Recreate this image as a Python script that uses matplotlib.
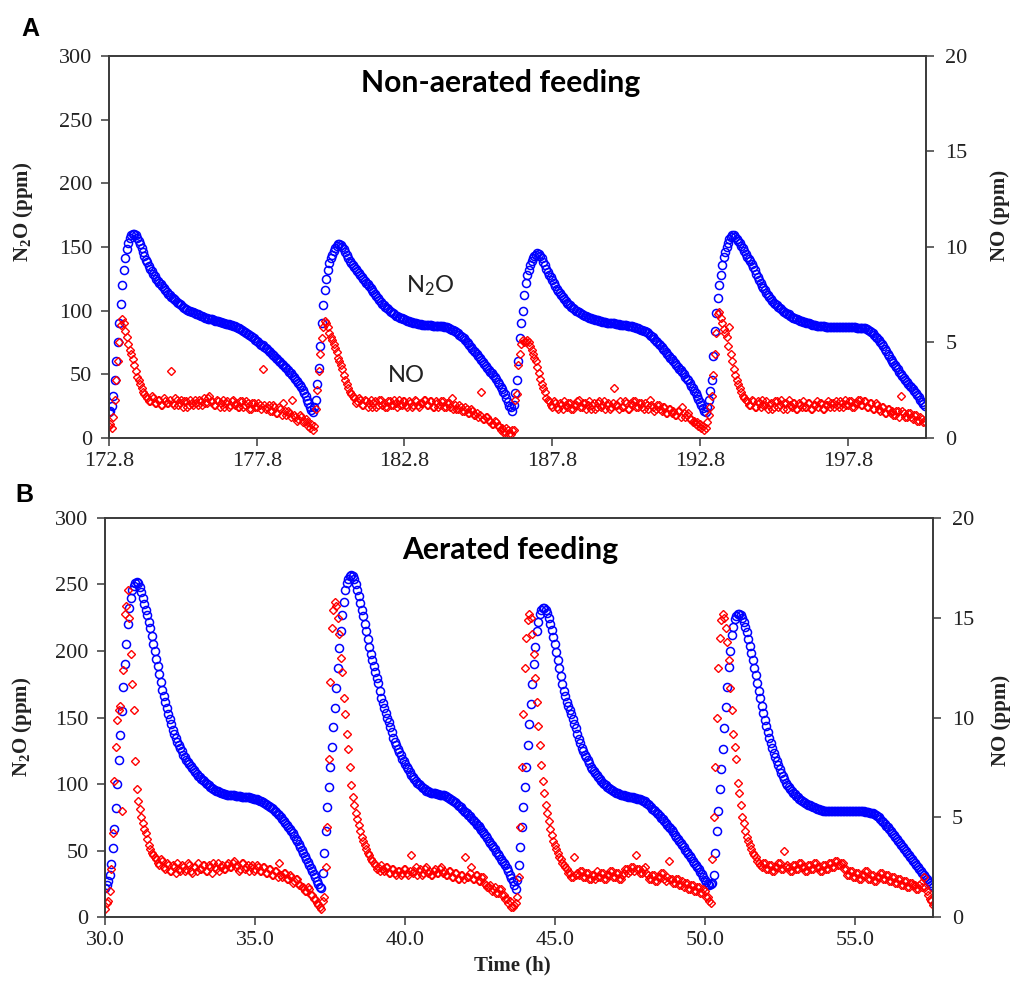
import matplotlib
matplotlib.use('Agg')
import matplotlib.pyplot as plt
import numpy as np

plt.rcParams['mathtext.fontset'] = 'custom'
plt.rcParams['mathtext.rm'] = 'Liberation Serif'
plt.rcParams['mathtext.bf'] = 'Liberation Serif:bold'
plt.rcParams['mathtext.sf'] = 'Lato'

# Sampling step of both panels (h); one row below = one hour (20 samples)
step = 0.05

# Panel A: non-aerated feeding, starts at 172.8 h
t0_a = 172.8
n2o_a = [
    20, 21, 25, 33, 45, 60, 75, 90, 105, 120, 132, 141, 148, 153, 157, 159, 160, 160, 159, 157,
    155, 152, 149, 146, 143, 140, 138, 135, 133, 131, 129, 127, 125, 123.5, 122, 120.5, 119, 117.5, 116, 114.5,
    113, 112, 111, 110, 109, 108, 107, 106, 105, 104, 103, 102, 101, 100.5, 100, 99.5, 99, 98.5, 98, 97.5,
    97, 96.5, 96, 95.5, 95, 94.5, 94, 93.7, 93.5, 93.2, 93, 92.5, 92, 91.7, 91.5, 91.2, 91, 90.5, 90, 89.7,
    89.5, 89.2, 89, 88.5, 88, 87.5, 87, 86.5, 86, 85.2, 84.5, 83.7, 83, 82.2, 81.5, 80.7, 80, 79, 78, 77,
    76, 75, 74, 73.2, 72.5, 71.5, 70.5, 69.5, 68.5, 67.2, 66, 65, 64, 63, 62, 60.7, 59.5, 58.2, 57, 55.7,
    54.5, 53.2, 52, 50.5, 49, 47.5, 46, 44.5, 43, 41.2, 39.5, 37.3, 35, 32.5, 30, 27, 24, 21.5, 20, 24,
    30, 42, 55, 72, 90, 104, 116, 125, 132, 137, 141, 144, 147, 149, 151, 152, 152, 151.5, 150, 148,
    146, 143.5, 141, 139, 137, 135.5, 134, 132.5, 131, 129.5, 128, 126.5, 125, 123.5, 122, 120.5, 119, 117.5, 116, 114.5,
    113, 111.5, 110, 108.5, 107, 105.5, 104, 103, 102, 101, 100, 99, 98, 97, 96, 95.5, 95, 94.5, 94, 93.5,
    93, 92.5, 92, 91.5, 91, 90.7, 90.5, 90.2, 90, 89.7, 89.5, 89.2, 89, 89, 89, 88.7, 88.5, 88.5, 88.5, 88.2,
    88, 88, 88, 88, 88, 87.7, 87.5, 87.2, 87, 86.7, 86.5, 85.7, 85, 84.5, 84, 83, 82, 81, 80, 79,
    78, 76.7, 75.5, 74.2, 73, 71.5, 70, 68.5, 67, 65.5, 64, 62.5, 61, 59.5, 58, 56.5, 55, 53.5, 52, 50.5,
    49, 47.5, 46, 44, 42, 40, 38, 36, 34, 31, 28, 25, 24, 21, 26, 35, 45, 60, 78, 90,
    100, 112, 122, 128, 132, 136, 139, 141, 143, 144, 145, 144.5, 143, 141, 138, 135.5, 133, 130.5, 128, 126,
    124, 121.5, 119, 117, 115, 113.5, 112, 110.5, 109, 107.5, 106, 105, 104, 103, 102, 101, 100, 99.5, 99, 98,
    97, 96.5, 96, 95.5, 95, 94.5, 94, 93.5, 93, 92.7, 92.5, 92.2, 92, 91.5, 91, 91, 91, 90.5, 90, 90,
    90, 90, 90, 89.7, 89.5, 89.2, 89, 89, 89, 88.7, 88.5, 88.2, 88, 87.7, 87.5, 87.2, 87, 86.5, 86, 85.5,
    85, 84.5, 84, 83.5, 83, 82, 81, 80, 79, 77.5, 76, 75, 74, 72.5, 71, 70, 69, 67.5, 66, 64.5,
    63, 61.5, 60, 58.5, 57, 55.5, 54, 53, 52, 50, 48, 46.5, 45, 43, 41, 39, 37, 35, 33, 30.5,
    28, 25.5, 23, 21, 20, 24, 30, 37, 45, 64, 84, 98, 110, 120, 128, 136, 142, 146, 150, 153,
    156, 158, 159, 159, 158, 156.5, 155, 153, 151, 149, 147, 144.5, 142, 140.5, 139, 136.5, 134, 131.5, 129, 126.5,
    124, 121.5, 119, 117.5, 116, 114, 112, 110.5, 109, 107.5, 106, 105, 104, 103, 102, 101, 100, 99, 98, 97.5,
    97, 96, 95, 94.5, 94, 93.5, 93, 92.5, 92, 91.5, 91, 90.7, 90.5, 90.2, 90, 89.5, 89, 88.7, 88.5, 88.2,
    88, 88, 88, 87.7, 87.5, 87.2, 87, 87, 87, 87, 87, 87, 87, 87, 87, 87, 87, 87, 87, 87,
    87, 87, 87, 87, 87, 86.7, 86.5, 86.5, 86.5, 86.2, 86, 86, 86, 85.5, 85, 84, 83, 82, 81, 79.5,
    78, 76.5, 75, 73.5, 72, 70, 68, 66, 64, 62, 60, 58.5, 57, 55.5, 54, 52, 50, 48.5, 47, 45.5,
    44, 42.5, 41, 39.5, 38, 36.5, 35, 33.5, 32, 30, 28, 26.5, 25,
]
no_a = [
    0.6, 0.7, 0.5, 1.1, 2.0, 3.0, 4.0, 5.0, 5.9, 6.2, 6.0, 5.6, 5.3, 4.9, 4.6, 4.4, 4.1, 3.8, 3.5, 3.2,
    3.0, 2.8, 2.6, 2.4, 2.3, 2.2, 2.1, 1.9, 1.9, 2.2, 2.1, 1.8, 1.8, 2.0, 2.0, 1.7, 1.7, 2.1, 1.9, 1.8,
    1.8, 2.0, 3.5, 1.8, 1.7, 2.1, 2.0, 1.7, 1.8, 2.0, 1.6, 1.9, 1.9, 1.6, 1.7, 2.0, 1.8, 1.7, 2.0, 1.8,
    1.7, 2.0, 1.9, 1.7, 2.1, 1.8, 1.8, 2.1, 2.2, 1.9, 1.9, 1.7, 1.7, 2.0, 1.9, 1.6, 1.8, 2.0, 1.6, 1.8,
    1.9, 1.6, 1.7, 1.9, 2.0, 1.7, 1.8, 1.6, 1.6, 1.9, 1.9, 1.6, 1.7, 1.9, 1.8, 1.5, 1.5, 1.8, 1.8, 1.6,
    1.6, 1.8, 1.7, 1.5, 3.6, 1.7, 1.5, 1.6, 1.7, 1.4, 1.4, 1.7, 1.6, 1.3, 1.3, 1.6, 1.5, 1.2, 1.8, 1.4,
    1.2, 1.4, 1.3, 1.1, 2.0, 1.2, 1.1, 0.9, 1.0, 1.2, 1.1, 0.8, 0.9, 1.0, 0.8, 0.6, 0.5, 0.7, 0.4, 0.6,
    1.5, 2.5, 3.5, 4.4, 5.2, 5.8, 6.1, 6.0, 5.8, 5.5, 5.3, 5.1, 4.9, 4.7, 4.5, 4.2, 4.0, 3.8, 3.6, 3.3,
    3.0, 2.8, 2.6, 2.4, 2.3, 2.2, 2.1, 1.8, 1.9, 2.1, 2.0, 1.7, 1.7, 2.0, 1.9, 1.6, 1.8, 2.0, 1.6, 1.8,
    1.9, 1.6, 1.7, 2.0, 2.0, 1.7, 1.8, 1.6, 1.6, 1.9, 1.9, 1.7, 1.7, 2.0, 1.8, 1.6, 2.0, 1.7, 1.7, 1.9,
    1.9, 1.7, 1.6, 1.9, 1.8, 1.6, 1.7, 2.0, 1.9, 1.7, 1.6, 1.8, 1.8, 2.0, 2.0, 1.7, 1.7, 1.9, 1.9, 1.6,
    1.6, 1.9, 1.8, 1.6, 1.7, 1.9, 1.9, 1.6, 1.6, 1.8, 1.8, 1.6, 2.1, 1.5, 1.7, 1.5, 1.5, 1.7, 1.6, 1.4,
    1.4, 1.6, 1.5, 1.3, 1.3, 1.5, 1.4, 1.2, 1.2, 1.3, 1.1, 1.2, 2.4, 1.0, 1.0, 1.1, 1.1, 0.9, 0.9, 0.7,
    0.7, 0.9, 0.8, 0.6, 0.6, 0.4, 0.5, 0.3, 0.3, 0.5, 0.4, 0.2, 0.2, 0.4, 0.4, 2.0, 2.3, 3.8, 4.4, 4.9,
    5.1, 5.0, 5.0, 5.1, 5.0, 4.8, 4.6, 4.4, 4.2, 4.0, 3.7, 3.4, 3.1, 2.8, 2.6, 2.4, 2.1, 2.0, 1.9, 1.7,
    1.6, 1.9, 1.8, 1.6, 1.5, 1.8, 1.7, 1.5, 1.9, 1.7, 1.6, 1.8, 1.8, 1.5, 1.5, 1.7, 1.7, 1.9, 2.0, 1.6,
    1.6, 1.8, 1.8, 1.5, 1.7, 1.9, 1.5, 1.7, 1.8, 1.5, 1.6, 1.8, 1.9, 1.6, 1.7, 1.9, 1.5, 1.7, 1.8, 1.5,
    1.6, 1.8, 2.6, 1.7, 1.7, 1.5, 1.9, 1.6, 1.6, 1.9, 1.8, 1.5, 1.5, 1.8, 1.7, 1.9, 1.9, 1.6, 1.6, 1.8,
    1.8, 1.6, 1.5, 1.8, 1.7, 1.5, 2.0, 1.7, 1.6, 1.4, 1.5, 1.7, 1.7, 1.5, 1.4, 1.6, 1.6, 1.3, 1.3, 1.5,
    1.5, 1.3, 1.4, 1.2, 1.2, 1.4, 1.4, 1.1, 1.6, 1.3, 1.1, 1.2, 1.3, 1.0, 1.0, 0.8, 0.9, 0.7, 0.8, 0.6,
    0.7, 0.5, 0.6, 0.4, 0.5, 0.8, 1.2, 1.6, 2.2, 3.3, 4.4, 5.5, 6.5, 6.6, 6.3, 6.0, 5.7, 5.5, 5.3, 4.8,
    5.8, 4.4, 4.0, 3.6, 3.3, 3.0, 2.8, 2.6, 2.4, 2.2, 2.1, 2.0, 1.9, 1.7, 1.7, 2.0, 1.9, 1.6, 1.6, 1.9,
    1.8, 1.6, 2.0, 1.7, 1.7, 1.9, 1.5, 1.7, 1.8, 1.5, 1.6, 1.9, 1.9, 1.6, 1.7, 2.0, 1.5, 1.8, 1.8, 1.5,
    2.0, 1.7, 1.6, 1.8, 1.8, 1.5, 1.5, 1.8, 1.7, 1.6, 1.9, 1.6, 1.6, 1.8, 1.8, 1.5, 1.5, 1.7, 1.7, 1.9,
    1.6, 1.8, 1.8, 1.5, 1.5, 1.7, 1.7, 1.9, 1.6, 1.8, 1.8, 1.6, 1.9, 1.7, 1.6, 1.9, 1.8, 1.6, 2.0, 1.7,
    1.7, 1.9, 1.9, 1.6, 1.6, 1.8, 1.8, 2.0, 2.0, 1.7, 1.7, 1.9, 1.9, 1.6, 1.6, 1.8, 1.8, 1.5, 1.5, 1.8,
    1.7, 1.5, 1.4, 1.6, 1.6, 1.3, 1.3, 1.5, 1.5, 1.3, 1.4, 1.2, 1.2, 1.4, 1.4, 1.1, 2.2, 1.4, 1.3, 1.1,
    1.1, 1.3, 1.3, 1.1, 1.0, 1.2, 1.2, 0.9, 0.9, 1.1, 1.0, 0.8, 0.8,
]
xticks_a = [172.8, 177.8, 182.8, 187.8, 192.8, 197.8]

# Panel B: aerated feeding, starts at 30.0 h
t0_b = 30.0
n2o_b = [
    22, 24, 27, 32, 40, 52, 66, 82, 100, 118, 137, 155, 173, 190, 205, 220, 232, 240, 246, 249,
    251, 252, 251, 248, 244, 240, 235, 231, 227, 222, 217, 211, 205, 200, 194, 189, 183, 177, 171, 166,
    162, 157, 153, 149, 145, 141, 138, 135, 132, 129.5, 127, 124.5, 122, 120, 118, 116.5, 115, 113.5, 112, 110.5,
    109, 107.5, 106, 105, 104, 103, 102, 101, 100, 99, 98, 97.2, 96.5, 95.7, 95, 94.5, 94, 93.5, 93, 92.7,
    92.5, 92.2, 92, 92, 92, 91.7, 91.5, 91.2, 91, 91, 91, 90.7, 90.5, 90.2, 90, 90, 90, 89.7, 89.5, 89.2,
    89, 88.5, 88, 87.5, 87, 86.5, 86, 85.2, 84.5, 83.7, 83, 82, 81, 80, 79, 77.7, 76.5, 75.2, 74, 72.5,
    71, 69.5, 68, 66.5, 65, 63, 61, 59, 57, 55, 53, 50.7, 48.5, 46.2, 44, 41.7, 39.5, 37.2, 35, 32.5,
    30, 27.5, 25, 23, 22, 33, 48, 65, 83, 98, 113, 128, 143, 157, 172, 187, 202, 215, 227, 237,
    246, 251, 254, 256, 257, 256, 254, 250, 246, 241, 236, 231, 226, 220.5, 215, 209, 203, 198, 193, 188.5,
    184, 180, 176, 170, 165, 161, 157, 153.5, 150, 146.5, 143, 139, 135, 132, 129, 126.5, 124, 121.5, 119, 117,
    115, 113, 111, 109, 107, 105.5, 104, 102.5, 101, 100, 99, 98, 97, 96, 95, 94.5, 94, 93.7, 93.5, 93.2,
    93, 92.7, 92.5, 92.2, 92, 91.7, 91.5, 91, 90.5, 89.7, 89, 88.2, 87.5, 86.5, 85.5, 84.5, 83.5, 82.5, 81.5, 80.2,
    79, 78, 77, 75.7, 74.5, 73.2, 72, 70.7, 69.5, 68.2, 67, 65.5, 64, 62.5, 61, 59.2, 57.5, 55.7, 54, 52.5,
    51, 49.2, 47.5, 45.7, 44, 42.5, 41, 39, 37, 34.5, 32, 29.5, 27, 24, 21, 28, 39, 53, 68, 83,
    98, 113, 129, 145, 160, 175, 190, 203, 215, 222, 228, 230.5, 232, 232, 231, 228.5, 225, 220.5, 216, 210.5,
    205, 199, 193, 187, 181, 175.5, 170, 166, 162, 159, 156, 152.5, 149, 145.5, 142, 138, 134, 130.5, 127, 124.5,
    122, 120, 118, 115.5, 113, 111.5, 110, 108.5, 107, 105.5, 104, 102.5, 101, 100, 99, 98, 97, 96.2, 95.5, 94.7,
    94, 93.5, 93, 92.5, 92, 91.7, 91.5, 91.2, 91, 90.7, 90.5, 90.2, 90, 89.7, 89.5, 89.2, 89, 88.5, 88, 87.5,
    87, 86, 85, 84, 83, 81.7, 80.5, 79.5, 78.5, 77.2, 76, 74.7, 73.5, 72.2, 71, 69.5, 68, 66.7, 65.5, 63.7,
    62, 60.5, 59, 57.5, 56, 54.2, 52.5, 50.7, 49, 47.5, 46, 44.2, 42.5, 40.7, 39, 37.5, 36, 34.2, 32.5, 30.2,
    28, 26.5, 25, 24.5, 25, 26, 32, 48, 65, 80, 96, 111, 126, 142, 158, 173, 188, 200, 212, 218,
    224, 226.5, 228, 228, 227, 225, 222, 218, 214, 209, 204, 198.5, 193, 187.5, 182, 176, 170, 164.5, 159, 153.5,
    148, 143.5, 139, 135, 131, 127, 123, 120, 117, 114, 111, 108.5, 106, 103.5, 101, 99.5, 98, 96.5, 95, 93.7,
    92.5, 91.2, 90, 89, 88, 87.2, 86.5, 85.7, 85, 84.5, 84, 83.5, 83, 82.5, 82, 81.5, 81, 80.7, 80.5, 80.2,
    80, 80, 80, 80, 80, 80, 80, 80, 80, 80, 80, 80, 80, 80, 80, 80, 80, 80, 80, 80,
    80, 80, 80, 80, 80, 80, 79.5, 79.2, 79, 78.7, 78.5, 78.2, 78, 77.2, 76.5, 75.7, 75, 73.7, 72.5, 71.2,
    70, 68.7, 67.5, 66.2, 65, 63.5, 62, 60.5, 59, 57.5, 56, 54.5, 53, 51.5, 50, 48.5, 47, 45.5, 44, 42.5,
    41, 39.5, 38, 36.5, 35, 33.5, 32, 30.5, 29, 27.5, 26, 24.5, 23,
]
no_b = [
    0.4, 0.7, 0.8, 1.3, 2.4, 4.2, 6.8, 8.5, 9.9, 10.4, 10.6, 5.3, 12.4, 15.2, 15.6, 16.4, 15.0, 13.2, 11.7, 10.4,
    7.8, 6.4, 5.8, 5.4, 5.0, 4.7, 4.4, 4.2, 3.9, 3.6, 3.4, 3.2, 3.1, 3.0, 2.9, 2.7, 2.6, 2.9, 2.8, 2.5,
    2.4, 2.7, 2.6, 2.3, 2.3, 2.6, 2.5, 2.2, 2.7, 2.4, 2.3, 2.6, 2.5, 2.3, 2.4, 2.7, 2.6, 2.3, 2.2, 2.5,
    2.5, 2.3, 2.7, 2.4, 2.4, 2.6, 2.6, 2.3, 2.3, 2.6, 2.5, 2.2, 2.7, 2.5, 2.4, 2.7, 2.3, 2.5, 2.6, 2.4,
    2.4, 2.6, 2.7, 2.5, 2.5, 2.7, 2.8, 2.5, 2.6, 2.3, 2.4, 2.7, 2.7, 2.4, 2.5, 2.6, 2.3, 2.5, 2.6, 2.3,
    2.4, 2.6, 2.5, 2.3, 2.3, 2.5, 2.5, 2.2, 2.2, 2.4, 2.4, 2.1, 2.1, 2.3, 2.3, 2.0, 2.7, 2.1, 2.0, 2.2,
    2.2, 1.9, 1.9, 2.1, 2.0, 1.7, 1.8, 1.9, 1.9, 1.6, 1.6, 1.5, 1.5, 1.3, 1.3, 1.5, 1.4, 1.1, 1.1, 0.9,
    0.9, 0.7, 0.6, 0.5, 0.4, 0.8, 1.0, 2.5, 4.5, 7.9, 11.8, 14.5, 15.4, 15.8, 15.6, 15.0, 14.2, 13.0, 12.3, 11.0,
    10.2, 9.2, 8.4, 7.5, 6.6, 6.0, 5.6, 5.2, 4.9, 4.6, 4.3, 4.0, 3.8, 3.6, 3.4, 3.2, 3.1, 2.9, 2.8, 2.7,
    2.6, 2.4, 2.5, 2.3, 2.6, 2.4, 2.3, 2.5, 2.5, 2.2, 2.2, 2.4, 2.4, 2.2, 2.1, 2.3, 2.3, 2.1, 2.2, 2.4,
    2.4, 2.2, 2.1, 2.3, 3.1, 2.2, 2.3, 2.5, 2.1, 2.3, 2.4, 2.1, 2.2, 2.4, 2.5, 2.2, 2.3, 2.1, 2.1, 2.3,
    2.4, 2.2, 2.2, 2.4, 2.5, 2.2, 2.3, 2.1, 2.1, 2.3, 2.3, 2.0, 2.0, 2.2, 2.2, 1.9, 1.9, 2.1, 2.1, 1.9,
    3.0, 2.0, 2.0, 2.2, 2.5, 1.9, 1.9, 2.1, 2.1, 1.8, 1.8, 2.0, 2.0, 1.7, 1.6, 1.5, 1.5, 1.6, 1.3, 1.4,
    1.5, 1.2, 1.2, 1.4, 1.4, 1.1, 1.1, 0.9, 0.9, 0.7, 0.8, 0.5, 0.5, 0.6, 0.7, 1.0, 2.0, 4.5, 7.5, 10.2,
    12.5, 14.0, 14.9, 15.2, 15.0, 14.2, 13.2, 12.0, 10.8, 9.6, 8.6, 7.6, 6.8, 6.2, 5.6, 5.2, 4.8, 4.4, 4.1, 3.8,
    3.6, 3.4, 3.2, 3.0, 2.9, 2.7, 2.6, 2.5, 2.4, 2.2, 2.2, 2.0, 2.0, 3.0, 2.1, 2.2, 2.1, 2.3, 2.3, 2.0,
    2.0, 2.2, 2.2, 1.9, 1.9, 2.1, 2.1, 1.9, 2.3, 2.0, 2.0, 2.2, 2.2, 1.9, 1.9, 2.1, 2.1, 2.3, 2.3, 2.0,
    2.0, 2.2, 2.2, 1.9, 1.9, 2.1, 2.2, 2.4, 2.4, 2.2, 2.3, 2.5, 2.5, 2.3, 3.1, 2.4, 2.4, 2.2, 2.2, 2.4,
    2.5, 2.2, 2.1, 1.9, 1.9, 2.1, 2.1, 1.8, 1.8, 2.0, 2.0, 2.2, 2.2, 1.9, 1.8, 2.0, 2.8, 1.9, 1.9, 1.7,
    1.7, 1.9, 1.9, 1.6, 1.6, 1.8, 1.5, 1.7, 1.7, 1.4, 1.4, 1.6, 1.6, 1.3, 1.3, 1.5, 1.5, 1.2, 1.2, 1.4,
    1.3, 1.0, 1.0, 0.8, 0.7, 2.9, 5.0, 7.5, 10.0, 12.5, 14.0, 14.9, 15.2, 15.0, 14.5, 13.8, 12.9, 11.5, 10.4, 9.2,
    8.5, 7.9, 6.7, 6.2, 5.6, 5.0, 4.7, 4.3, 4.0, 3.8, 3.6, 3.4, 3.2, 3.1, 3.0, 2.8, 2.7, 2.6, 2.5, 2.7,
    2.7, 2.4, 2.4, 2.6, 2.6, 2.3, 2.3, 2.5, 2.5, 2.7, 2.7, 2.4, 2.4, 3.3, 2.5, 2.6, 2.5, 2.3, 2.3, 2.6,
    2.6, 2.4, 2.4, 2.7, 2.7, 2.5, 2.5, 2.3, 2.3, 2.6, 2.6, 2.4, 2.4, 2.7, 2.7, 2.5, 2.5, 2.3, 2.3, 2.6,
    2.6, 2.4, 2.4, 2.7, 2.7, 2.5, 2.5, 2.8, 2.8, 2.6, 2.6, 2.7, 2.7, 2.4, 2.4, 2.1, 2.1, 2.3, 2.3, 2.0,
    2.0, 2.2, 2.2, 1.9, 1.9, 2.1, 2.1, 2.3, 2.3, 1.9, 1.9, 2.1, 2.1, 1.8, 1.8, 2.0, 2.0, 2.2, 2.2, 1.9,
    1.9, 2.1, 2.1, 1.8, 1.8, 2.0, 2.0, 1.7, 1.7, 1.9, 1.9, 1.6, 1.6, 1.8, 1.8, 1.5, 1.5, 1.7, 1.7, 1.6,
    1.6, 1.4, 1.4, 1.6, 1.7, 1.5, 2.0, 1.5, 1.3, 1.1, 0.9, 0.8, 0.6,
]
xticks_b = [30.0, 35.0, 40.0, 45.0, 50.0, 55.0]

W, H = 1016, 985
serif = 'Liberation Serif'
ink = '#222222'
spine_col = '#3a3a3a'

fig = plt.figure(figsize=(W / 100, H / 100), dpi=100)


def px(x, y):
    return x / W, 1 - y / H


def draw_panel(rect, t0, n2o, no, xticks, xlim):
    ax = fig.add_axes(rect)
    ax2 = ax.twinx()
    t_n2o = t0 + step * np.arange(len(n2o))
    t_no = t0 + step * np.arange(len(no))

    ax.plot(t_n2o, n2o, linestyle='none', marker='o', ms=5.8, mew=1.1,
            mfc='none', mec='#0000ff')
    ax2.plot(t_no, no, linestyle='none', marker='D', ms=4.0, mew=1.0,
             mfc='none', mec='#ff0000')

    ax.set_xlim(*xlim)
    ax.set_ylim(0, 300)
    ax2.set_ylim(0, 20)
    ax.set_yticks(np.arange(0, 301, 50))
    ax2.set_yticks(np.arange(0, 21, 5))
    ax.set_xticks(xticks)
    ax.set_xticklabels(['%.1f' % v for v in xticks])

    for a in (ax, ax2):
        for s in a.spines.values():
            s.set_color(spine_col)
            s.set_linewidth(1.2)
        a.tick_params(direction='out', length=6, width=1.1, color=spine_col,
                      labelsize=16, labelcolor=ink)
        for lab in a.get_xticklabels() + a.get_yticklabels():
            lab.set_fontfamily(serif)
    ax.tick_params(axis='y', pad=6)
    ax2.tick_params(axis='y', pad=8)
    ax.tick_params(axis='x', pad=4)
    return ax, ax2


ax_a, ax_a2 = draw_panel([0.1073, 0.5556, 0.8041, 0.3875], t0_a, n2o_a, no_a,
                         xticks_a, (172.8, 200.45))
ax_b, ax_b2 = draw_panel([0.1036, 0.0687, 0.8144, 0.4057], t0_b, n2o_b, no_b,
                         xticks_b, (30.0, 57.6))

# Axis labels
lab_kw = dict(family=serif, fontsize=15, fontweight='bold', color=ink,
              rotation=90, ha='center', va='center')
n2o_label = r'$\mathbf{N_2O}$ (ppm)'
fig.text(*px(23, 212), n2o_label, **lab_kw)
fig.text(*px(1000, 215), 'NO (ppm)', **lab_kw)
fig.text(*px(22, 727), n2o_label, **lab_kw)
fig.text(*px(1001, 720), 'NO (ppm)', **lab_kw)
fig.text(*px(512, 965), 'Time (h)', family=serif, fontsize=15,
         fontweight='bold', color=ink, ha='center', va='center')

# Panel letters
fig.text(*px(30, 29), 'A', family='Liberation Sans', fontsize=18,
         fontweight='bold', color='black', ha='center', va='center')
fig.text(*px(24, 495), 'B', family='Liberation Sans', fontsize=18,
         fontweight='bold', color='black', ha='center', va='center')

# Panel titles
fig.text(*px(501, 83), 'Non-aerated feeding', family='Lato', fontsize=21.7,
         fontweight='bold', color='black', ha='center', va='center')
fig.text(*px(510, 550), 'Aerated feeding', family='Lato', fontsize=21.7,
         fontweight='bold', color='black', ha='center', va='center')

# Series annotations in panel A
fig.text(*px(430, 286), r'$\mathsf{N_2O}$', fontsize=17,
         color='#222222', ha='center', va='center')
fig.text(*px(406, 376), 'NO', family='Lato', fontsize=17,
         color='#222222', ha='center', va='center')

fig.savefig('out.png', dpi=100)
